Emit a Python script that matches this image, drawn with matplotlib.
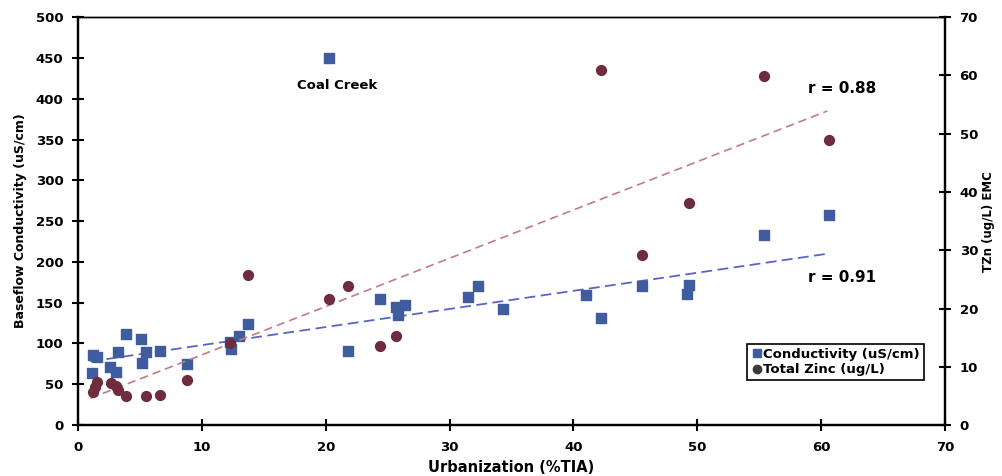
import numpy as np
import matplotlib
matplotlib.use("Agg")
import matplotlib.pyplot as plt
from matplotlib.lines import Line2D

# conductivity (left axis)
cond_x = [20.3, 1.5, 1.2, 1.1, 2.6, 3.1, 3.25, 3.9, 5.1, 5.5, 6.6, 5.2, 8.8,
          12.35, 12.3, 13.0, 13.7, 21.8, 24.4, 25.7, 25.8, 26.4, 31.5, 32.3,
          34.3, 41.0, 42.2, 45.5, 49.3, 49.2, 55.4, 60.6]
cond_y = [450, 84, 86, 64, 71, 65, 89, 112, 105, 90, 91, 76, 75,
          93, 102, 109, 124, 91, 154, 145, 135, 147, 157, 171,
          142, 159, 131, 170, 172, 161, 233, 257]

# total zinc (right axis)
zinc_x = [42.2, 55.4, 60.6, 49.3, 45.5, 13.7, 21.8, 20.3, 24.4, 25.7, 12.3,
          8.8, 5.5, 6.6, 3.9, 3.1, 2.7, 3.25, 1.5, 1.2, 1.4]
zinc_y = [60.9, 59.9, 49.0, 38.1, 29.2, 25.7, 23.9, 21.6, 13.6, 15.2, 14.1,
          7.7, 5.0, 5.1, 5.0, 6.7, 7.2, 6.1, 7.4, 5.7, 6.6]

# trend lines
trend_x = [1.0, 60.5]
cond_trend = [78, 210]
zinc_trend = [4.6, 53.9]

fig = plt.figure(figsize=(10.03, 4.76), dpi=100)
ax = fig.add_axes([0.0778, 0.107, 0.8644, 0.857])
ax2 = ax.twinx()

ax.plot(trend_x, cond_trend, color="#5a64c4", ls=(0, (6, 3)), lw=1.3)
ax2.plot(trend_x, zinc_trend, color="#c27a8a", ls=(0, (5, 3)), lw=1.2)

ax.scatter(cond_x, cond_y, marker="s", s=50, color="#3f5c9e", zorder=3)
ax2.scatter(zinc_x, zinc_y, marker="o", s=50, color="#6e2c3e", zorder=3)

ax.set_xlim(0, 70)
ax.set_ylim(0, 500)
ax2.set_ylim(0, 70)
ax.set_xticks(np.arange(0, 71, 10))
ax.set_yticks(np.arange(0, 501, 50))
ax2.set_yticks(np.arange(0, 71, 10))

for a in (ax, ax2):
    a.tick_params(direction="inout", length=9, width=1.5, labelsize=9.5)
    a.tick_params(axis="x", pad=7)
    a.tick_params(axis="y", pad=6)
    for lab in a.get_xticklabels() + a.get_yticklabels():
        lab.set_fontweight("bold")
    for s in ("left", "right", "bottom"):
        a.spines[s].set_linewidth(1.6)
    a.spines["top"].set_linestyle((0, (1, 1)))
    a.spines["top"].set_linewidth(1.0)

ax.set_xlabel("Urbanization (%TIA)", fontsize=10.5, fontweight="bold", labelpad=4)
ax.set_ylabel("Baseflow Conductivity (uS/cm)", fontsize=9, fontweight="bold", labelpad=6)
ax2.set_ylabel("TZn (ug/L) EMC", rotation=90, labelpad=3, fontsize=8.5, fontweight="bold")

ax.text(20.9, 416, "Coal Creek", ha="center", va="center", fontsize=9.5, fontweight="bold")
ax.text(61.7, 413, "r = 0.88", ha="center", va="center", fontsize=11, fontweight="bold")
ax.text(61.7, 181, "r = 0.91", ha="center", va="center", fontsize=11, fontweight="bold")

handles = [Line2D([], [], marker="s", ls="none", color="#3f5c9e", markersize=6),
           Line2D([], [], marker="o", ls="none", color="#3a3a3a", markersize=6)]
leg = ax.legend(handles, ["Conductivity (uS/cm)", "Total Zinc (ug/L)"],
                loc="lower left", bbox_to_anchor=(0.772, 0.110),
                prop=dict(size=9.5, weight="bold"), handletextpad=0.1,
                handlelength=0.8, borderpad=0.3, labelspacing=0.2,
                borderaxespad=0, fancybox=False, edgecolor="black", framealpha=1)
leg.get_frame().set_linewidth(1.2)

fig.savefig("out.png", dpi=100)
